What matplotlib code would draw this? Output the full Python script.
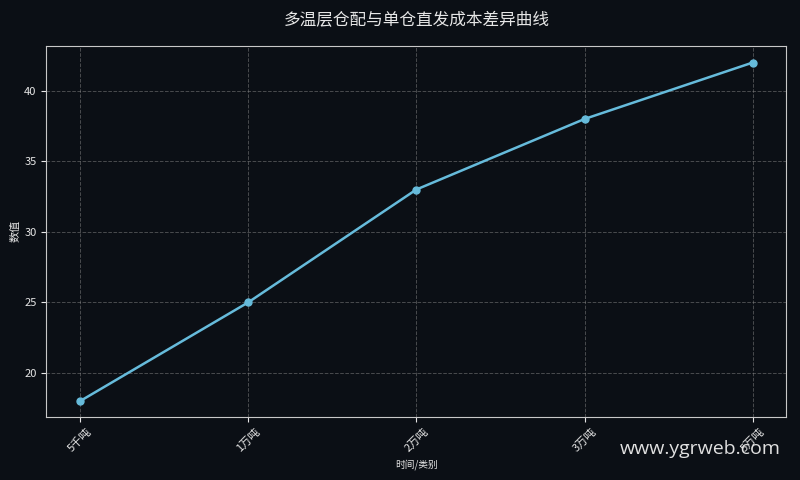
import matplotlib
matplotlib.use("Agg")
import matplotlib.pyplot as plt

plt.rcParams['font.family'] = ['Noto Sans CJK SC', 'DejaVu Sans']

# data
categories = ['5千吨', '1万吨', '2万吨', '3万吨', '5万吨']
values = [18, 25, 33, 38, 42]

bg = '#0b0f15'
line_color = '#66bbdb'
text_color = '#e6e6e6'

fig, ax = plt.subplots(figsize=(8, 4.8), dpi=100)
fig.patch.set_facecolor(bg)
ax.set_facecolor(bg)

ax.plot(range(len(categories)), values, color=line_color, linewidth=1.8,
        marker='o', markersize=5)

ax.set_xticks(range(len(categories)))
ax.set_xticklabels(categories, rotation=45, fontsize=8, color=text_color)
ax.tick_params(axis='y', labelsize=8, colors=text_color)
ax.tick_params(axis='x', colors=text_color)

ax.set_title('多温层仓配与单仓直发成本差异曲线', fontsize=12, color=text_color,
             pad=15, weight='medium')
ax.set_xlabel('时间/类别', fontsize=7, color=text_color)
ax.set_ylabel('数值', fontsize=8, color=text_color, labelpad=3)

ax.grid(True, linestyle='--', color='#888888', alpha=0.5, linewidth=0.7)
for s in ax.spines.values():
    s.set_color('#c8c8c8')

ax.set_xlim(-0.2, 4.2)
ax.set_ylim(16.9, 43.2)

plt.subplots_adjust(left=0.058, right=0.983, top=0.905, bottom=0.132)

fig.text(0.976, 0.045, 'www.ygrweb.com', ha='right', va='bottom',
         fontsize=14, color='#e0e0e0', family=['Open Sans', 'DejaVu Sans'])

fig.savefig('out.png', facecolor=bg)
